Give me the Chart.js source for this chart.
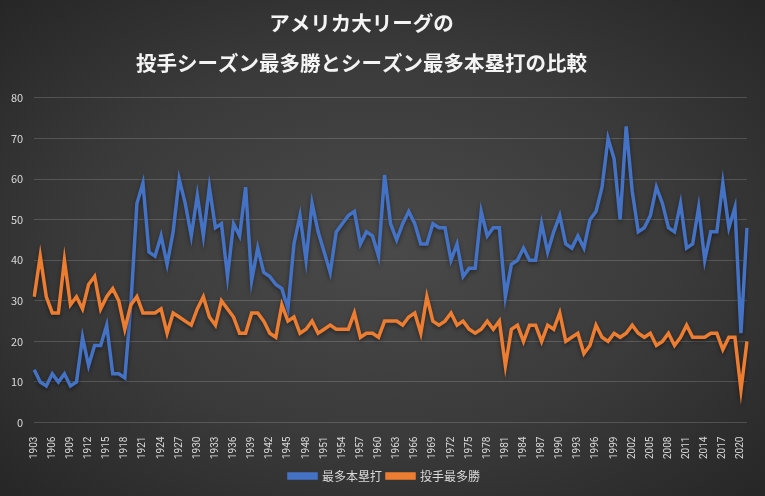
<!DOCTYPE html>
<html>
<head>
<meta charset="utf-8">
<script src="https://cdn.jsdelivr.net/npm/chart.js@4"></script>
<style>
  html, body { margin: 0; padding: 0; }
  body {
    width: 765px; height: 496px; overflow: hidden;
    background: radial-gradient(ellipse at 50% 50%, #4a4a4a 0%, #3a3a3a 55%, #262626 100%);
  }
</style>
</head>
<body>
<canvas id="chart" width="765" height="496"></canvas>
<script>
// seasons 1903 - 2021
let years = [];
for (let y = 1903; y <= 2021; y++) years.push(String(y));

// 最多本塁打 (season HR leader)
let homeRuns = [
  13, 10, 9, 12, 10, 12, 9, 10, 21, 14,
  19, 19, 24, 12, 12, 11, 29, 54, 59, 42,
  41, 46, 39, 47, 60, 54, 46, 56, 46, 58,
  48, 49, 36, 49, 46, 58, 35, 43, 37, 36,
  34, 33, 28, 44, 51, 40, 54, 47, 42, 37,
  47, 49, 51, 52, 44, 47, 46, 41, 61, 49,
  45, 49, 52, 49, 44, 44, 49, 48, 48, 40,
  44, 36, 38, 38, 52, 46, 48, 48, 31, 39,
  40, 43, 40, 40, 49, 42, 47, 51, 44, 43,
  46, 43, 50, 52, 58, 70, 65, 50, 73, 57,
  47, 48, 51, 58, 54, 48, 47, 54, 43, 44,
  53, 40, 47, 47, 59, 48, 53, 22, 48
];

// 投手最多勝 (season wins leader)
let wins = [
  31, 41, 31, 27, 27, 40, 29, 31, 28, 34,
  36, 28, 31, 33, 30, 23, 29, 31, 27, 27,
  27, 28, 22, 27, 26, 25, 24, 28, 31, 26,
  24, 30, 28, 26, 22, 22, 27, 27, 25, 22,
  21, 29, 25, 26, 22, 23, 25, 22, 23, 24,
  23, 23, 23, 27, 21, 22, 22, 21, 25, 25,
  25, 24, 26, 27, 22, 31, 25, 24, 25, 27,
  24, 25, 23, 22, 23, 25, 23, 25, 14, 23,
  24, 20, 24, 24, 20, 24, 23, 27, 20, 21,
  22, 17, 19, 24, 21, 20, 22, 21, 22, 24,
  22, 21, 22, 19, 20, 22, 19, 21, 24, 21,
  21, 21, 22, 22, 18, 21, 21, 8, 20
];

const FONT = "'Noto Sans CJK JP', 'Noto Sans', sans-serif";
const TXT = "#d9d9d9";

// soft shadow under the lines, like the original
const lineShadow = {
  id: "lineShadow",
  beforeDatasetsDraw(chart) {
    const ctx = chart.ctx;
    ctx.save();
    ctx.shadowColor = "rgba(0,0,0,0.45)";
    ctx.shadowBlur = 4;
    ctx.shadowOffsetY = 2;
  },
  afterDatasetsDraw(chart) {
    chart.ctx.restore();
  }
};

// title sits a bit left of centre, legend a bit right
const nudge = {
  id: "nudge",
  afterLayout(chart) {
    chart.titleBlock.left -= 14;
    chart.titleBlock.right -= 14;
    chart.legend.left += 9;
    chart.legend.right += 9;
  }
};

new Chart(document.getElementById("chart"), {
  type: "line",
  data: {
    labels: years,
    datasets: [
      {
        label: "最多本塁打",
        data: homeRuns,
        borderColor: "#4472c4",
        backgroundColor: "#4472c4",
        borderWidth: 3.5,
        pointRadius: 0,
        tension: 0,
        order: 1
      },
      {
        label: "投手最多勝",
        data: wins,
        borderColor: "#ed7d31",
        backgroundColor: "#ed7d31",
        borderWidth: 3.5,
        pointRadius: 0,
        tension: 0,
        order: 0
      }
    ]
  },
  plugins: [lineShadow, nudge],
  options: {
    responsive: false,
    animation: false,
    layout: { padding: { top: 3, left: 0, right: 14, bottom: 4 } },
    plugins: {
      title: {
        display: true,
        text: ["アメリカ大リーグの", "投手シーズン最多勝とシーズン最多本塁打の比較"],
        color: "#f4f4f4",
        font: { family: FONT, size: 20.5, weight: "bold", lineHeight: 1.95 },
        padding: { top: 0, bottom: 15 }
      },
      legend: {
        position: "bottom",
        labels: {
          color: TXT,
          font: { family: FONT, size: 12 },
          boxWidth: 27,
          boxHeight: 4,
          padding: 5,
          sort: (a, b) => a.datasetIndex - b.datasetIndex
        }
      },
      tooltip: { enabled: false }
    },
    scales: {
      x: {
        grid: { display: false },
        border: { display: false },
        ticks: {
          color: TXT,
          font: { family: "Roboto, 'Noto Sans', sans-serif", size: 10 },
          autoSkip: false,
          minRotation: 90,
          maxRotation: 90,
          padding: 6,
          callback: function(val, i) {
            return (i % 3 === 0) ? years[i] : "";
          }
        }
      },
      y: {
        min: 0,
        max: 80,
        grid: { color: "rgba(255,255,255,0.16)", drawTicks: false },
        border: { display: false },
        ticks: {
          stepSize: 10,
          color: TXT,
          font: { family: FONT, size: 11 },
          padding: 11
        }
      }
    }
  }
});
</script>
</body>
</html>
